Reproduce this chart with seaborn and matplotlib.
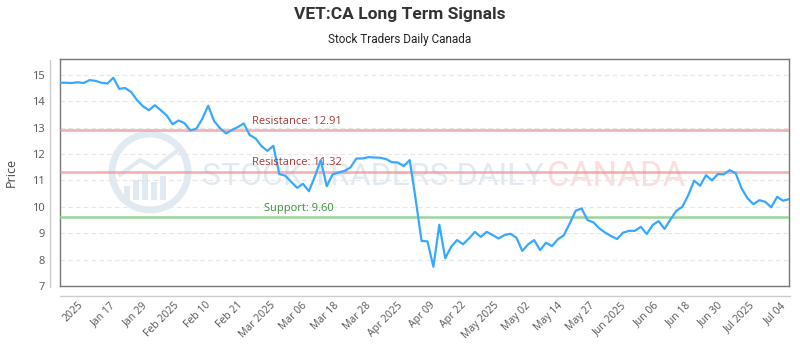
import numpy as np
import pandas as pd
import seaborn as sns
import matplotlib.pyplot as plt
from matplotlib.patches import Ellipse, Rectangle
from matplotlib.lines import Line2D

# Daily closing prices, one per session
prices = [
    14.70, 14.70, 14.69, 14.72, 14.69, 14.80, 14.77, 14.70, 14.67, 14.89,
    14.47, 14.50, 14.35, 14.04, 13.81, 13.66, 13.85, 13.66, 13.46, 13.13,
    13.27, 13.17, 12.89, 12.96, 13.33, 13.83, 13.25, 12.98, 12.78, 12.91,
    13.02, 13.16, 12.72, 12.59, 12.30, 12.12, 12.31, 11.24, 11.18, 10.95,
    10.72, 10.87, 10.59, 11.15, 11.77, 10.78, 11.23, 11.30, 11.36, 11.49,
    11.83, 11.83, 11.88, 11.87, 11.86, 11.81, 11.69, 11.68, 11.54, 11.77,
    10.30, 8.71, 8.69, 7.73, 9.32, 8.05, 8.49, 8.74, 8.58, 8.80,
    9.05, 8.86, 9.05, 8.93, 8.80, 8.93, 8.98, 8.83, 8.33, 8.58,
    8.74, 8.36, 8.64, 8.51, 8.77, 8.92, 9.37, 9.85, 9.94, 9.50,
    9.41, 9.18, 9.02, 8.89, 8.78, 9.02, 9.09, 9.09, 9.24, 8.97,
    9.31, 9.46, 9.16, 9.52, 9.85, 10.00, 10.44, 10.99, 10.80, 11.20,
    11.00, 11.24, 11.23, 11.39, 11.27, 10.70, 10.32, 10.10, 10.25, 10.19,
    9.98, 10.38, 10.23, 10.29,
]

tick_labels = [
    "2025", "Jan 17", "Jan 29", "Feb 2025", "Feb 10", "Feb 21", "Mar 2025",
    "Mar 06", "Mar 18", "Mar 28", "Apr 2025", "Apr 09", "Apr 22", "May 2025",
    "May 02", "May 14", "May 27", "Jun 2025", "Jun 06", "Jun 18", "Jun 30",
    "Jul 2025", "Jul 04",
]

resistance_levels = [12.91, 11.32]
support_level = 9.60

sns.set_style("white")
plt.rcParams["font.family"] = ["Open Sans", "DejaVu Sans"]
narrow = ["Roboto", "DejaVu Sans"]

W, H = 800, 350
fig = plt.figure(figsize=(8, 3.5), dpi=100)
x0, x1, y0, y1 = 60, 789, 59, 286
ax = fig.add_axes([x0 / W, 1 - y1 / H, (x1 - x0) / W, (y1 - y0) / H])

df = pd.DataFrame({"session": np.arange(len(prices)), "price": prices})
sns.lineplot(data=df, x="session", y="price", ax=ax, color="#36a9ff",
             linewidth=1.6, zorder=5)

ax.set_xlim(0, len(prices) - 1)
ax.set_ylim(7, 15.6)

# dashed horizontal grid
ax.set_yticks(range(7, 16))
ax.yaxis.grid(True, color="#e6e6e6", linestyle=(0, (4, 3)), linewidth=0.8)
ax.xaxis.grid(False)

# evenly spaced date labels
ax.set_xticks(np.linspace(3.0, 121.6, len(tick_labels)))
ax.set_xticklabels(tick_labels, rotation=45, ha="right",
                   rotation_mode="anchor", fontsize=7.5, color="#555555")
ax.tick_params(axis="x", length=0, pad=10)
ax.tick_params(axis="y", length=0, pad=11, labelsize=8, labelcolor="#555555")
ax.set_xlabel("")
ax.set_ylabel("Price", fontsize=9, color="#444444", labelpad=10)

for s in ax.spines.values():
    s.set_color("#777777")
    s.set_linewidth(1.0)

# outer axis lines
fig.add_artist(Line2D([50 / W, 50 / W], [1 - 60 / H, 1 - 287 / H],
                      color="#cccccc", lw=1))
fig.add_artist(Line2D([60 / W, 790 / W], [1 - 296 / H, 1 - 296 / H],
                      color="#cccccc", lw=1))

# resistance and support levels
for lvl in resistance_levels:
    ax.axhline(lvl, color="#ee8d8d", linewidth=2.0, alpha=0.65, zorder=3)
    ax.annotate(f"Resistance: {lvl:.2f}", xy=(0.263, lvl),
                xycoords=("axes fraction", "data"), xytext=(0, 2.5),
                textcoords="offset points", ha="left", va="bottom",
                fontsize=8, color="#a33a3a", zorder=6)
ax.axhline(support_level, color="#8fd08f", linewidth=1.8, alpha=0.9, zorder=3)
ax.annotate(f"Support: {support_level:.2f}", xy=(0.280, support_level),
            xycoords=("axes fraction", "data"), xytext=(0, 2.5),
            textcoords="offset points", ha="left", va="bottom",
            fontsize=8, color="#3c8f3c", zorder=6)

# watermark: round logo plus wordmark
wm = "#e2eaf1"
cx, cy, r = 150, 172, 38
fig.add_artist(Ellipse((cx / W, 1 - cy / H), 2 * r / W, 2 * r / H,
                       fill=False, edgecolor=wm, linewidth=5, zorder=1))
for bx, bh in [(124, 14), (133, 20), (142, 26), (151, 18), (160, 24)]:
    fig.add_artist(Rectangle((bx / W, 1 - 200 / H), 6 / W, bh / H,
                             facecolor=wm, edgecolor="none", zorder=1))
fig.add_artist(Line2D([120 / W, 140 / W, 155 / W, 178 / W],
                      [1 - 175 / H, 1 - 160 / H, 1 - 168 / H, 1 - 150 / H],
                      color=wm, lw=3, zorder=1))
fig.text(202 / W, 1 - 177 / H, "STOCK TRADERS DAILY", family=narrow,
         fontsize=23, color=wm, ha="left", va="center", zorder=1)
fig.text(547 / W, 1 - 177 / H, "CANADA", family=narrow,
         fontsize=25, color="#fbdede", ha="left", va="center", zorder=1)

ax.set_zorder(2)
ax.patch.set_alpha(0)

fig.text(0.5, 1 - 15 / H, "VET:CA Long Term Signals", family=narrow,
         fontsize=12.5, fontweight="bold", color="#333333",
         ha="center", va="center")
fig.text(0.5, 1 - 40 / H, "Stock Traders Daily Canada", family=narrow,
         fontsize=8.5, color="#222222", ha="center", va="center")

fig.savefig("out.png", dpi=100, facecolor="white")
